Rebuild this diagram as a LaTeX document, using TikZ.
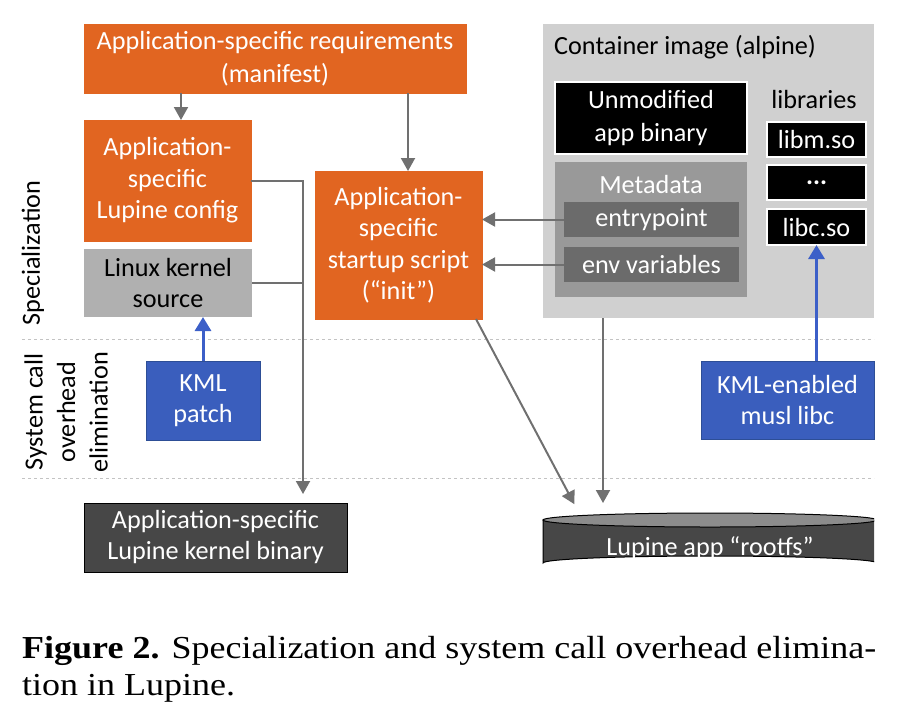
\documentclass[tikz,border=0pt]{standalone}
\usepackage{fontspec}
\setmainfont{Carlito}
\newfontfamily\capfont{Liberation Serif}
\usetikzlibrary{arrows.meta,calc}
\definecolor{lorange}{RGB}{225,101,33}
\definecolor{lblue}{RGB}{58,94,189}
\definecolor{lblueedge}{RGB}{45,78,150}
\definecolor{larrow}{RGB}{60,95,200}
\definecolor{lgrayline}{RGB}{112,112,112}
\definecolor{lcont}{RGB}{208,208,208}
\definecolor{lmeta}{RGB}{153,153,153}
\definecolor{lfield}{RGB}{107,107,107}
\definecolor{lksrc}{RGB}{176,176,176}
\definecolor{ldark}{RGB}{71,71,71}
\definecolor{ltop}{RGB}{140,140,140}
\definecolor{ldash}{RGB}{195,195,195}
\newcommand{\dfont}{\fontsize{26.2}{32}\selectfont}
\tikzset{
  lbl/.style={font=\dfont, align=center, inner sep=0pt},
  boxat/.style args={#1/#2/#3/#4}{anchor=north west, inner sep=0pt, outer sep=0pt,
     minimum width=#3-#1, minimum height=#4-#2, align=center, font=\dfont},
  orangebox/.style={fill=lorange, draw=lorange, text=white},
  bluebox/.style={fill=lblue, draw=lblueedge, line width=1pt, text=white},
  blackbox/.style={fill=black, draw=white, line width=1.5pt, text=white},
  graybox/.style={fill=#1, draw=none},
  darkbox/.style={fill=ldark, draw=black, line width=1pt, text=white},
  garrow/.style={draw=lgrayline, line width=2pt, -{Triangle[width=14pt,length=13pt]}},
  gline/.style={draw=lgrayline, line width=2pt},
  barrow/.style={draw=larrow, line width=3pt, -{Triangle[width=16pt,length=14pt]}},
  sep/.style={draw=ldash, line width=1pt, dash pattern=on 3pt off 3pt},
  capstyle/.style={anchor=base west, inner sep=0pt, font=\capfont\fontsize{32}{37}\selectfont}
}
\begin{document}
\begin{tikzpicture}[x=1pt,y=-1pt]
\useasboundingbox (0,0) rectangle (904,716);

% separators
\coordinate (s1a) at (22,339.5); \coordinate (s1b) at (874,339.5);
\coordinate (s2a) at (22,478.5); \coordinate (s2b) at (874,478.5);
\draw[sep] (s1a) -- (s1b);
\draw[sep] (s2a) -- (s2b);

% container
\node[boxat=543/24/874/318, graybox=lcont] (container) at (543,24) {};
\node[lbl, anchor=west] (contlbl) at (554,47) {Container image (alpine)};
\node[boxat=555/81/747/153, blackbox] (appbin) at (555,82) {Unmodified\\[1pt]app binary};
\node[lbl] (libs) at (814,99) {libraries};
\node[boxat=767/122/866/157, blackbox] (libm) at (767,122) {libm.so};
\node[boxat=767/165/866/200, blackbox] (dots) at (767,165) {\raisebox{-3pt}{\textbf{...}}};
\node[boxat=767/209/866/245, blackbox] (libc) at (767,209) {libc.so};
\node[boxat=555/162/747/297, graybox=lmeta] (meta) at (555,162) {};
\node[lbl, text=white] (metalbl) at (651,184) {Metadata};
\node[boxat=564/202/739/237, graybox=lfield, text=white] (entry) at (564,202) {entrypoint};
\node[boxat=564/247/739/282, graybox=lfield, text=white] (env) at (564,247) {env variables};

% orange boxes
\node[boxat=84/24/466/93, orangebox] (manifest) at (84,24) {Application-specific requirements\\[1pt](manifest)};
\node[boxat=84/120/251/241, orangebox] (config) at (84,120) {Application-\\[-0.5pt]specific\\[-0.5pt]Lupine config};
\node[boxat=84/249/252/317, graybox=lksrc] (ksrc) at (84,249) {Linux kernel\\[-1pt]source};
\node[boxat=315/171/482/319, orangebox] (init) at (315,171) {Application-\\[-0.5pt]specific\\[-0.5pt]startup script\\[-0.5pt](``init'')};

% blue boxes
\node[boxat=146/361/260/440, bluebox] (kmlpatch) at (146,361) {KML\\[-1pt]patch};
\node[boxat=701/361/874/439, bluebox] (musl) at (701,361) {KML-enabled\\[-1pt]musl libc};

% outputs
\node[boxat=84/503/347/572, darkbox] (kbin) at (84,503) {Application-specific\\[-1pt]Lupine kernel binary};
\begin{scope}
  \clip (530,500) rectangle (874,580);
  \path[fill=ldark, draw=black, line width=1pt]
    (543,520) -- (543,563) arc[start angle=180, end angle=360, x radius=167, y radius=7]
    -- (877,520) -- cycle;
  \path[fill=ltop, draw=black, line width=1pt] (710,520) ellipse[x radius=167, y radius=7];
\end{scope}
\node[lbl, text=white] (rootfs) at (710,548) {Lupine app ``rootfs''};

% side labels
\node[lbl, rotate=90] (spec) at (33,253) {Specialization};
\node[lbl, rotate=90, font=\fontsize{26.2}{32.5}\selectfont] (sysc) at (66,412) {System call\\overhead\\elimination};

% connectors
\coordinate (xa) at (181,0);
\coordinate (xb) at (408,0);
\coordinate (xc) at (303,0);
\coordinate (xd) at (603,0);
\draw[garrow] (manifest.south -| xa) -- (config.north -| xa);
\draw[garrow] (manifest.south -| xb) -- (init.north -| xb);
\draw[garrow, shorten >=9pt] (config.east) -| (kbin.north -| xc);
\draw[gline] (ksrc.east) -- (ksrc.east -| xc);
\draw[garrow] (entry.west) -- (entry.west -| init.east);
\draw[garrow] (env.west) -- (env.west -| init.east);
\coordinate (rtop) at (579,513);
\draw[garrow, shorten >=10pt] (container.south -| xd) -- (rtop -| xd);
\draw[garrow, shorten >=10pt] ($(init.south east)+(-6,0)$) -- (rtop);
\draw[barrow] (kmlpatch.north) -- (kmlpatch.north |- ksrc.south);
\draw[barrow] (musl.north -| libc.south) -- (libc.south);

% caption
\node[capstyle] (cap1) at (22,658)
  {\scalebox{1.125}[1]{\textbf{Figure 2.} Specialization and system call overhead elimina-}};
\node[capstyle] (cap2) at (22,695)
  {\scalebox{1.125}[1]{tion in Lupine.}};
\end{tikzpicture}
\end{document}
